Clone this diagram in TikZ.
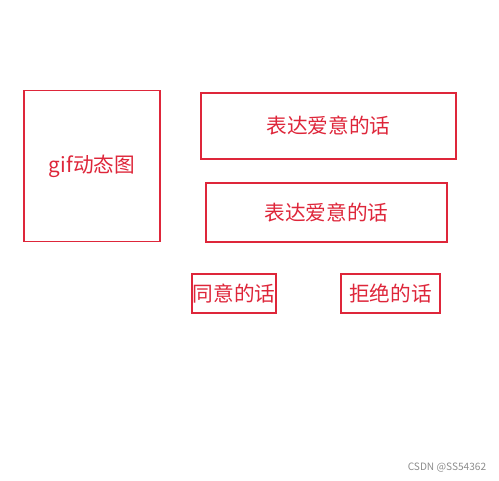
\documentclass[tikz,border=0pt]{standalone}
\usepackage{fontspec}
\setmainfont{Noto Sans CJK SC}
\usetikzlibrary{positioning}
\definecolor{lovered}{RGB}{222,38,58}
\tikzstyle{box} = [rectangle, draw=lovered, line width=1pt, text=lovered, inner sep=0pt, font=\fontsize{15.5}{18}\selectfont]
\tikzstyle{watermark} = [text=black!45, inner sep=0pt, font=\fontsize{7.6}{9}\selectfont]

\begin{document}
\begin{tikzpicture}[x=0.75pt, y=-0.75pt]

        \useasboundingbox (0,0) rectangle (499,481);

        \node (gifPic) [box, minimum width=102pt, minimum height=113.25pt] at (92,166) {\raisebox{-3pt}{gif动态图}};
        \node (loveTop) [box, minimum width=191.25pt, minimum height=49.5pt] at (328.5,126) {表达爱意的话};
        \node (loveBottom) [box, minimum width=180.75pt, minimum height=44.25pt] at (326.5,212.5) {表达爱意的话};
        \node (agree) [box, minimum width=63pt, minimum height=29.25pt] at (234,293.5) {同意的话};
        \node (refuse) [box, minimum width=74.25pt, minimum height=29.25pt] at (390.5,293.5) {拒绝的话};

        \node (csdnMark) [watermark] at (447,468) {CSDN @SS54362};

    \end{tikzpicture}
\end{document}
